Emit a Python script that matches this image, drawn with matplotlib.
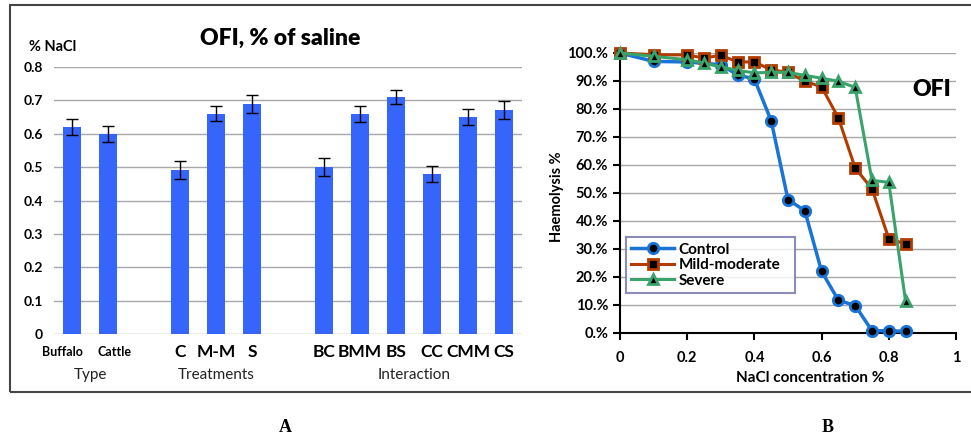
import matplotlib.pyplot as plt
import matplotlib.patches as patches
from matplotlib.ticker import FuncFormatter
from matplotlib.transforms import offset_copy

# --- Panel A data: OFI, % of saline ---
categories = ['Buffalo', 'Cattle', 'C', 'M-M', 'S', 'BC', 'BMM', 'BS', 'CC', 'CMM', 'CS']
positions = [0, 1, 3, 4, 5, 7, 8, 9, 10, 11, 12]
ofi_values = [0.62, 0.60, 0.49, 0.66, 0.69, 0.50, 0.66, 0.71, 0.48, 0.65, 0.67]
ofi_errors = [0.025, 0.024, 0.027, 0.023, 0.027, 0.027, 0.024, 0.022, 0.024, 0.024, 0.027]
groups = ['Type', 'Treatments', 'Interaction']
group_centers = [0.5, 4, 9.5]

# --- Panel B data: haemolysis curves ---
nacl_control = [0, 0.1, 0.2, 0.3, 0.35, 0.4, 0.45, 0.5, 0.55, 0.6, 0.65, 0.7, 0.75, 0.8, 0.85]
control = [100, 97.0, 96.8, 95.8, 92.2, 90.7, 75.8, 47.6, 43.7, 22.0, 11.7, 9.8, 0.8, 0.8, 0.6]
nacl = [0, 0.1, 0.2, 0.25, 0.3, 0.35, 0.4, 0.45, 0.5, 0.55, 0.6, 0.65, 0.7, 0.75, 0.8, 0.85]
mild = [100, 99.4, 99.3, 98.2, 99.2, 96.8, 96.8, 94.0, 93.1, 89.9, 87.9, 76.8, 58.9, 51.5, 33.7, 31.8]
severe = [100, 98.8, 97.6, 96.4, 95.0, 93.8, 92.9, 93.1, 93.1, 92.0, 91.0, 89.9, 87.7, 54.5, 53.8, 11.3]

plt.rcParams['font.family'] = ['Lato', 'DejaVu Sans']

fig = plt.figure(figsize=(9.71, 4.43), dpi=100)

# outer frame
frame = patches.Rectangle((10 / 971, 1 - 392 / 443), 1.0, 387 / 443, transform=fig.transFigure,
                          fill=False, edgecolor='#444444', linewidth=1.5)
fig.patches.append(frame)

# ---------------- Panel A ----------------
ax1 = fig.add_axes([54 / 971, 1 - 334 / 443, 468 / 971, 267 / 443])
ax1.bar(positions, ofi_values, width=0.5, color='#3565fa', zorder=3)
ax1.errorbar(positions, ofi_values, yerr=ofi_errors, fmt='none', ecolor='black',
             elinewidth=1, capsize=4, capthick=1, zorder=4)
ax1.set_xlim(-0.5, 12.5)
ax1.set_ylim(0, 0.8)
ax1.set_yticks([0, 0.1, 0.2, 0.3, 0.4, 0.5, 0.6, 0.7, 0.8])
ax1.set_yticklabels(['0', '0.1', '0.2', '0.3', '0.4', '0.5', '0.6', '0.7', '0.8'])
ax1.yaxis.grid(True, color='#a8a8a8', linewidth=1)
ax1.set_axisbelow(True)
for s in ax1.spines.values():
    s.set_visible(False)
ax1.tick_params(axis='y', length=0, pad=8, labelsize=10)
ax1.tick_params(axis='x', length=0, pad=0)
for lbl in ax1.get_yticklabels():
    lbl.set_fontweight('bold')
ax1.set_xticks(positions)
ax1.set_xticklabels([])
# category labels, Buffalo/Cattle nudged apart as in the original
label_shift = {'Buffalo': -10, 'Cattle': 6}
for name, px in zip(categories, positions):
    small = name in ('Buffalo', 'Cattle')
    tr = offset_copy(ax1.get_xaxis_transform(), fig=fig, x=label_shift.get(name, 0), y=0, units='dots')
    ax1.text(px, -0.068, name, transform=tr, ha='center', va='center', fontweight='bold',
             fontsize=9 if small else 12.5)
for name, cx in zip(groups, group_centers):
    ax1.text(cx, -0.155, name, transform=ax1.get_xaxis_transform(), ha='center', va='center',
             fontsize=11, color='#222222')

fig.text(280 / 971, 1 - 38 / 443, 'OFI, % of saline', ha='center', va='center',
         fontsize=16.5, fontweight='heavy')
fig.text(29 / 971, 1 - 47 / 443, '% NaCl', ha='left', va='center', fontsize=10.5, fontweight='bold')

# ---------------- Panel B ----------------
ax2 = fig.add_axes([620 / 971, 1 - 333 / 443, 336 / 971, 280 / 443])
ax2.plot(nacl_control, control, color='#1a74d6', linewidth=2.5, marker='o', markersize=7.5,
         markerfacecolor='black', markeredgecolor='#1a74d6', markeredgewidth=2,
         label='Control', clip_on=False, zorder=3)
ax2.plot(nacl, mild, color='#b23c00', linewidth=2.2, marker='s', markersize=7.5,
         markerfacecolor='black', markeredgecolor='#b23c00', markeredgewidth=2,
         label='Mild-moderate', clip_on=False, zorder=4)
ax2.plot(nacl, severe, color='#3aa36c', linewidth=2.2, marker='^', markersize=7.5,
         markerfacecolor='black', markeredgecolor='#3aa36c', markeredgewidth=2,
         label='Severe', clip_on=False, zorder=5)
ax2.set_xlim(0, 1)
ax2.set_ylim(0, 100)
ax2.set_xticks([0, 0.2, 0.4, 0.6, 0.8, 1])
ax2.set_xticklabels(['0', '0.2', '0.4', '0.6', '0.8', '1'])
ax2.set_yticks(range(0, 101, 10))
ax2.yaxis.set_major_formatter(FuncFormatter(lambda v, p: '%d.%%' % v))
ax2.yaxis.grid(True, color='#a8a8a8', linewidth=1)
ax2.set_axisbelow(True)
ax2.spines['top'].set_visible(False)
ax2.spines['right'].set_visible(False)
ax2.spines['left'].set_linewidth(1.5)
ax2.spines['bottom'].set_linewidth(1.5)
ax2.tick_params(axis='both', direction='out', length=5, width=1.5, labelsize=10.5)
ax2.tick_params(axis='x', pad=8)
for lbl in ax2.get_xticklabels() + ax2.get_yticklabels():
    lbl.set_fontweight('bold')
fig.text(810 / 971, 1 - 378 / 443, 'NaCl concentration %', ha='center', va='center',
         fontsize=11, fontweight='bold')
fig.text(557 / 971, 1 - 197 / 443, 'Haemolysis %', ha='center', va='center', rotation=90,
         fontsize=10.5, fontweight='bold')
ax2.text(0.87, 87, 'OFI', ha='left', va='center', fontsize=16.5, fontweight='heavy')

leg = ax2.legend(loc='lower left', bbox_to_anchor=(0.018, 0.143, 0.503, 0.207), mode='expand',
                 prop={'weight': 'bold', 'size': 11},
                 frameon=True, fancybox=False, handlelength=2.8, borderpad=0.35,
                 labelspacing=0.1, handletextpad=0.3, borderaxespad=0)
leg.get_frame().set_edgecolor('#7070a8')
leg.get_frame().set_linewidth(1.5)

# panel letters
fig.text(285 / 971, 1 - 428 / 443, 'A', ha='center', va='center', fontsize=13, fontweight='bold',
         family='Liberation Serif')
fig.text(828 / 971, 1 - 428 / 443, 'B', ha='center', va='center', fontsize=13, fontweight='bold',
         family='Liberation Serif')

plt.savefig('out.png', dpi=100)
